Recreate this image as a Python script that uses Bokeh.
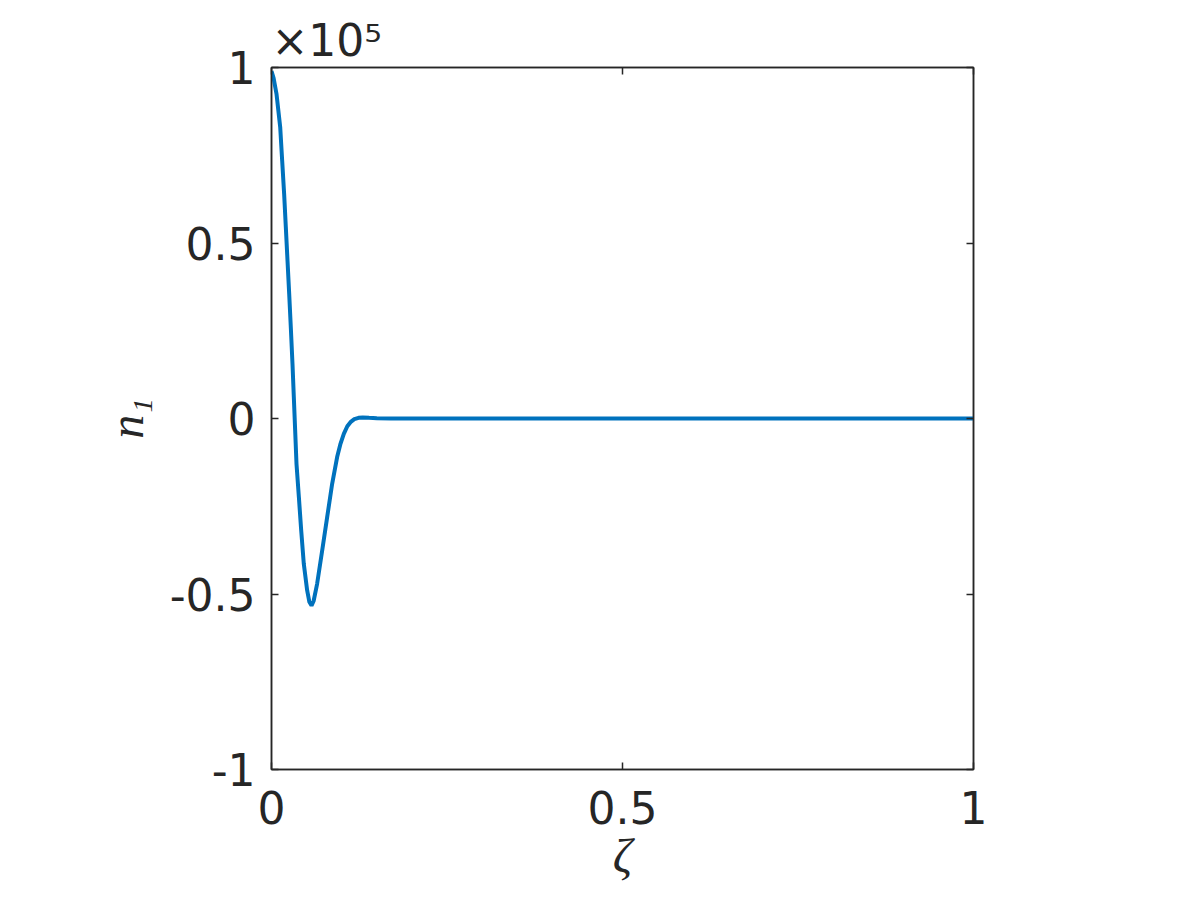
from bokeh.plotting import figure
from bokeh.models import (Range1d, FixedTicker, LinearAxis, CustomJSTickFormatter)
from bokeh.embed import file_html
from bokeh.resources import INLINE

# ---- data (n1 in absolute units; axis shows x10^5) ----
zeta = [0.0, 0.003, 0.0071, 0.0124, 0.0152, 0.018, 0.0204, 0.0228, 0.0252, 0.0275,
        0.0299, 0.0318, 0.0337, 0.0356, 0.039, 0.0423, 0.046, 0.0508, 0.054, 0.057,
        0.060, 0.065, 0.0722, 0.0793, 0.0864, 0.0935, 0.098, 0.103, 0.108, 0.1125,
        0.118, 0.124, 0.130, 0.139, 0.150, 0.170, 0.200, 0.300, 0.400, 0.500,
        0.600, 0.700, 0.800, 0.900, 1.000]
n1 = [99000, 97000, 92500, 83000, 73500, 64000, 54500, 45000, 35500, 26000,
      15600, 6100, -3400, -12900, -22400, -31900, -41400, -49000, -52300, -53300,
      -52000, -47100, -37600, -28100, -18600, -11000, -7400, -4400, -2200, -1050,
      -200, 200, 300, 200, 100, 0, 0, 0, 0, 0,
      0, 0, 0, 0, 0]

x_ticks = [0, 0.5, 1]
y_ticks = [-100000, -50000, 0, 50000, 100000]
x_tick_labels = {0: "0", 0.5: "0.5", 1: "1"}

AX = "#262626"
LINE = "#0072BD"
TICK_FONT = "DejaVu Sans"
TICK_SIZE = "44px"

p = figure(width=1184, height=884, output_backend="svg", toolbar_location=None,
           x_range=Range1d(0, 1), y_range=Range1d(-100000, 100000),
           min_border_left=271, min_border_right=211, min_border_top=67,
           min_border_bottom=115, background_fill_color="white",
           border_fill_color="white", title="×10⁵")
p.grid.visible = False
p.outline_line_color = AX
p.outline_line_width = 1.5

p.title.align = "left"
p.title.text_font = TICK_FONT
p.title.text_font_size = TICK_SIZE
p.title.text_font_style = "normal"
p.title.text_color = AX
p.title.offset = 0
p.title.standoff = 4

yfmt = CustomJSTickFormatter(code="var v = tick/100000; return v.toString();")

def style(ax, show_labels):
    ax.axis_line_color = AX
    ax.axis_line_width = 1.5
    ax.major_tick_line_color = AX
    ax.major_tick_line_width = 1.5
    ax.major_tick_in = 7
    ax.major_tick_out = 0
    ax.minor_tick_line_color = None
    if show_labels:
        ax.major_label_text_font = TICK_FONT
        ax.major_label_text_font_size = TICK_SIZE
        ax.major_label_text_color = AX
    else:
        ax.major_label_text_font_size = "0px"
        ax.major_label_text_color = None
        ax.major_label_standoff = 0

xb = p.xaxis[0]
xb.ticker = FixedTicker(ticks=x_ticks)
xb.major_label_overrides = x_tick_labels
xb.major_label_standoff = 21
style(xb, True)
xb.axis_label = "ζ"
xb.axis_label_text_font = "Liberation Serif"
xb.axis_label_text_font_style = "italic"
xb.axis_label_text_font_size = "48px"
xb.axis_label_text_color = AX
xb.axis_label_standoff = 2

yl = p.yaxis[0]
yl.ticker = FixedTicker(ticks=y_ticks)
yl.formatter = yfmt
yl.major_label_standoff = 16
style(yl, True)
yl.axis_label = "n₁"
yl.axis_label_text_font = "Liberation Serif"
yl.axis_label_text_font_style = "italic"
yl.axis_label_text_font_size = "48px"
yl.axis_label_text_color = AX
yl.axis_label_standoff = 14

xt = LinearAxis(ticker=FixedTicker(ticks=x_ticks))
style(xt, False)
p.add_layout(xt, "above")
yr = LinearAxis(ticker=FixedTicker(ticks=y_ticks))
style(yr, False)
p.add_layout(yr, "right")

p.line(zeta, n1, line_color=LINE, line_width=4)

open("out.html", "w").write(file_html(p, INLINE))
